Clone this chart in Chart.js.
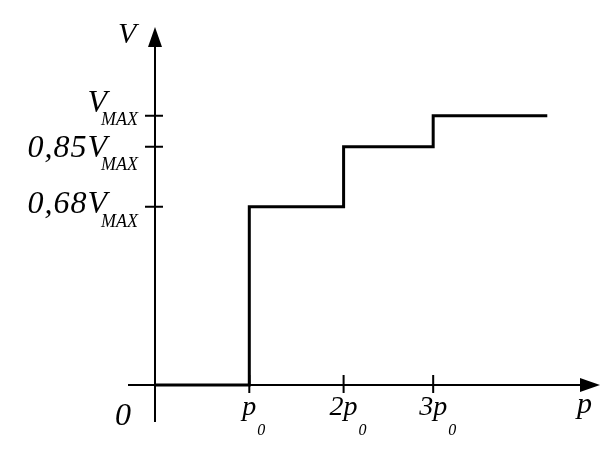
<!DOCTYPE html>
<html>
<head>
<meta charset="utf-8">
<script src="https://cdn.jsdelivr.net/npm/chart.js@4"></script>
<style>
  html, body { margin: 0; padding: 0; background: #fff; }
  #wrap { width: 611px; height: 454px; position: relative; }
</style>
</head>
<body>
<div id="wrap"><canvas id="stepChart"></canvas></div>
<script>
// Pressure steps (in units of p0) and the V level reached at each step (in units of V_MAX)
const stepP = [0, 1, 2, 2.95, 4.16];
const stepV = [0, 0.662, 0.885, 1, 1];

// Tick positions and their labels
const pTicks = [1, 2, 2.95];
const pTickLabels = [['p', '0'], ['2p', '0'], ['3p', '0']];
const vTicks = [1, 0.885, 0.662];
const vTickLabels = [['V', 'MAX'], ['0,85V', 'MAX'], ['0,68V', 'MAX']];

const FONT = '"Liberation Serif", "Times New Roman", serif';

// draws the arrowed axes, tick marks and italic labels (with subscripts)
const axesPlugin = {
  id: 'axesPlugin',
  beforeDatasetsDraw(chart) {
    const ctx = chart.ctx;
    const xs = chart.scales.x, ys = chart.scales.y;
    const x0 = xs.getPixelForValue(0), y0 = ys.getPixelForValue(0);
    const area = chart.chartArea;

    ctx.save();
    ctx.strokeStyle = '#000';
    ctx.fillStyle = '#000';
    ctx.lineWidth = 2;

    // y axis + arrow
    ctx.beginPath();
    ctx.moveTo(x0, area.bottom);
    ctx.lineTo(x0, area.top + 20);
    ctx.stroke();
    ctx.beginPath();
    ctx.moveTo(x0, area.top);
    ctx.lineTo(x0 - 7, area.top + 20);
    ctx.lineTo(x0 + 7, area.top + 20);
    ctx.closePath();
    ctx.fill();

    // x axis + arrow
    ctx.beginPath();
    ctx.moveTo(area.left, y0);
    ctx.lineTo(area.right - 20, y0);
    ctx.stroke();
    ctx.beginPath();
    ctx.moveTo(area.right, y0);
    ctx.lineTo(area.right - 20, y0 - 7);
    ctx.lineTo(area.right - 20, y0 + 7);
    ctx.closePath();
    ctx.fill();

    // tick marks
    ctx.beginPath();
    pTicks.forEach(v => {
      const px = xs.getPixelForValue(v);
      ctx.moveTo(px, y0 - 10);
      ctx.lineTo(px, y0 + 8);
    });
    vTicks.forEach(v => {
      const py = ys.getPixelForValue(v);
      ctx.moveTo(x0 - 10, py);
      ctx.lineTo(x0 + 8, py);
    });
    ctx.stroke();

    ctx.textBaseline = 'alphabetic';

    // x tick labels
    pTicks.forEach((v, i) => {
      const px = xs.getPixelForValue(v);
      const [main, sub] = pTickLabels[i];
      ctx.font = 'italic 28px ' + FONT;
      ctx.textAlign = 'center';
      ctx.fillText(main, px, y0 + 30);
      const w = ctx.measureText(main).width;
      ctx.font = 'italic 16px ' + FONT;
      ctx.textAlign = 'left';
      ctx.fillText(sub, px + w / 2 + 1, y0 + 50);
    });

    // y tick labels
    const vOffsets = [[-4, 9], [10, 23], [6, 20]];
    vTicks.forEach((v, i) => {
      const py = ys.getPixelForValue(v);
      const [main, sub] = vTickLabels[i];
      ctx.font = 'italic 32px ' + FONT;
      ctx.letterSpacing = '1px';
      ctx.textAlign = 'right';
      ctx.fillText(main, x0 - 47, py + vOffsets[i][0]);
      ctx.letterSpacing = '0px';
      ctx.font = 'italic 18px ' + FONT;
      ctx.textAlign = 'left';
      ctx.fillText(sub, x0 - 54, py + vOffsets[i][1]);
    });

    // axis names and origin
    ctx.font = 'italic 30px ' + FONT;
    ctx.textAlign = 'left';
    ctx.fillText('V', x0 - 37, area.top + 16);
    ctx.fillText('p', area.right - 23, y0 + 28);
    ctx.font = 'italic 32px ' + FONT;
    ctx.fillText('0', x0 - 40, y0 + 40);

    ctx.restore();
  }
};

new Chart(document.getElementById('stepChart'), {
  type: 'line',
  data: {
    datasets: [{
      data: stepP.map((p, i) => ({ x: p, y: stepV[i] })),
      borderColor: '#000',
      borderWidth: 3,
      stepped: 'before',
      pointRadius: 0,
      fill: false,
      borderCapStyle: 'butt',
      borderJoinStyle: 'miter'
    }]
  },
  options: {
    responsive: true,
    maintainAspectRatio: false,
    animation: false,
    layout: { padding: { left: 128, right: 11, top: 27, bottom: 32 } },
    scales: {
      x: { type: 'linear', min: -0.2863, max: 4.719, display: false },
      y: { type: 'linear', min: -0.1374, max: 1.3294, display: false }
    },
    plugins: {
      legend: { display: false },
      tooltip: { enabled: false }
    }
  },
  plugins: [axesPlugin]
});
</script>
</body>
</html>
